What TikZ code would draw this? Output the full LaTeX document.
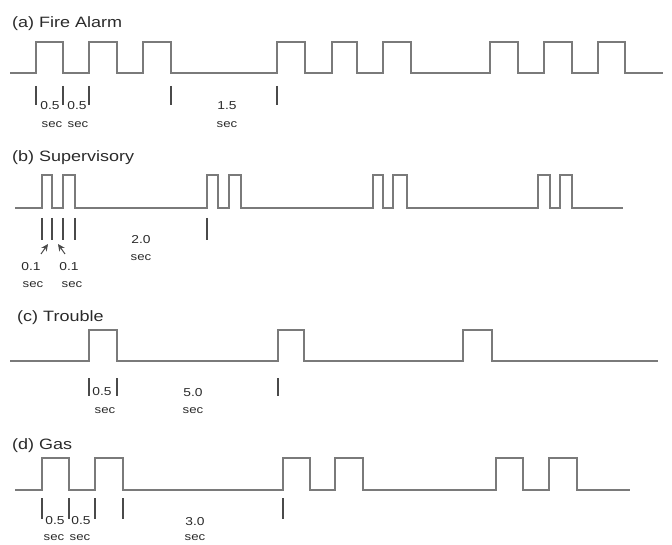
\documentclass[tikz,border=0pt]{standalone}
\usepackage{fontspec}
\setmainfont{Liberation Sans}[FakeStretch=1.2]
\usetikzlibrary{arrows.meta}
\definecolor{wavecol}{HTML}{7A7A7A}
\definecolor{tickcol}{HTML}{4A4A4A}
\definecolor{txtcol}{HTML}{2A2A2A}
\begin{document}
\begin{tikzpicture}[x=1pt,y=-1pt,
  wave/.style={draw=wavecol,line width=1.8pt},
  tickmark/.style={draw=tickcol,line width=1.1pt},
  title/.style={anchor=west,font=\fontsize{15}{18}\selectfont,text=txtcol,inner sep=0pt},
  num/.style={font=\fontsize{11.5}{13}\selectfont,text=txtcol,inner sep=0pt},
  secl/.style={font=\fontsize{11}{12}\selectfont,text=txtcol,inner sep=0pt},
  ptr/.style={draw=tickcol,line width=1pt,-{Stealth[length=7pt,width=6.5pt]}}]
\useasboundingbox (0,0) rectangle (672,545);

% ---------- (a) Fire Alarm ----------
\node[title] (ta) at (12,24) {(a) Fire Alarm};
\draw[wave] (10,73) -| (36,42) -| (63,73) -| (89,42) -| (117,73) -| (143,42) -| (171,73)
  -| (277,42) -| (305,73) -| (332,42) -| (357,73) -| (383,42) -| (411,73)
  -| (490,42) -| (518,73) -| (544,42) -| (572,73) -| (598,42) -| (625,73) -- (663,73);
\foreach \x in {36,63,89,171,277} \draw[tickmark] (\x,86) -- (\x,105);
\node[num] (a1) at (50,106) {0.5};
\node[num] (a2) at (77,106) {0.5};
\node[secl] (a1s) at (52,125) {sec};
\node[secl] (a2s) at (78,125) {sec};
\node[num] (a3) at (227,106) {1.5};
\node[secl] (a3s) at (227,125) {sec};

% ---------- (b) Supervisory ----------
\node[title] (tb) at (12,158) {(b) Supervisory};
\draw[wave] (15,208) -| (42,175) -| (52,208) -| (63,175) -| (75,208)
  -| (207,175) -| (218,208) -| (229,175) -| (241,208)
  -| (373,175) -| (383,208) -| (393,175) -| (407,208)
  -| (538,175) -| (550,208) -| (560,175) -| (572,208) -- (623,208);
\foreach \x in {42,52,63,75,207} \draw[tickmark] (\x,218) -- (\x,240);
\coordinate (pa0) at (41,254);
\coordinate (pa1) at (48,244);
\coordinate (pb0) at (65,254);
\coordinate (pb1) at (58,244);
\draw[ptr] (pa0) -- (pa1);
\draw[ptr] (pb0) -- (pb1);
\node[num] (b1) at (31,267) {0.1};
\node[secl] (b1s) at (33,285) {sec};
\node[num] (b2) at (69,267) {0.1};
\node[secl] (b2s) at (72,285) {sec};
\node[num] (b3) at (141,240) {2.0};
\node[secl] (b3s) at (141,258) {sec};

% ---------- (c) Trouble ----------
\node[title] (tc) at (17,318) {(c) Trouble};
\draw[wave] (10,361) -| (89,330) -| (117,361) -| (278,330) -| (304,361)
  -| (463,330) -| (492,361) -- (658,361);
\foreach \x in {89,117,278} \draw[tickmark] (\x,378) -- (\x,396);
\node[num] (c1) at (102,392) {0.5};
\node[secl] (c1s) at (105,411) {sec};
\node[num] (c2) at (193,393) {5.0};
\node[secl] (c2s) at (193,411) {sec};

% ---------- (d) Gas ----------
\node[title] (td) at (12,446) {(d) Gas};
\draw[wave] (15,490) -| (42,458) -| (69,490) -| (95,458) -| (123,490)
  -| (283,458) -| (310,490) -| (335,458) -| (363,490)
  -| (496,458) -| (523,490) -| (549,458) -| (577,490) -- (630,490);
\foreach \x in {42,69,95,123,283} \draw[tickmark] (\x,498) -- (\x,519);
\node[num] (d1) at (55,521) {0.5};
\node[num] (d2) at (81,521) {0.5};
\node[secl] (d1s) at (54,538) {sec};
\node[secl] (d2s) at (80,538) {sec};
\node[num] (d3) at (195,522) {3.0};
\node[secl] (d3s) at (195,538) {sec};
\end{tikzpicture}
\end{document}
